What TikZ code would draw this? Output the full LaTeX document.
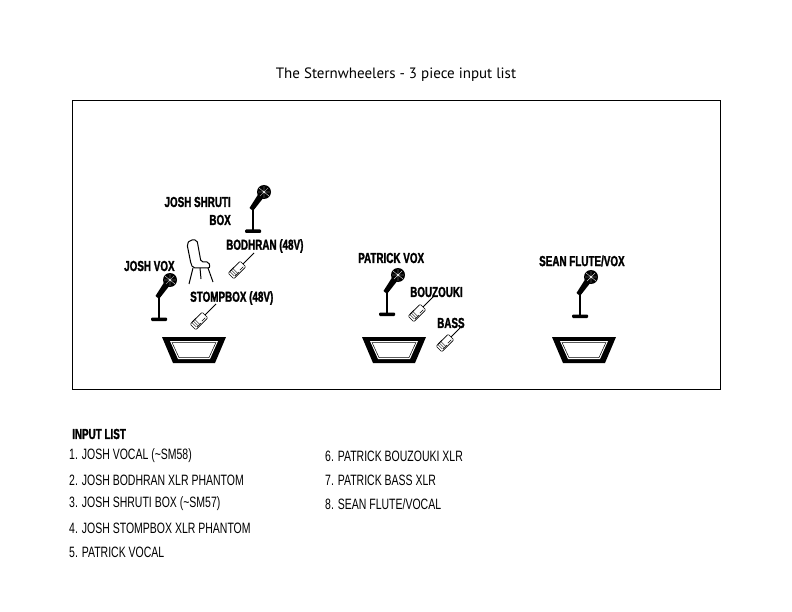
\documentclass[tikz,border=0pt]{standalone}
\usepackage{fontspec}
\setmainfont{PT Sans}
\newfontfamily\condb[FakeStretch=0.68,FakeBold=1.5]{Liberation Sans Bold}
\newfontfamily\condr[FakeStretch=0.7]{Liberation Sans}
\begin{document}
\begin{tikzpicture}[x=1pt,y=-1pt,
  lbl/.style={font=\condb\fontsize{14.5}{15}\selectfont,inner sep=0pt},
  item/.style={font=\condr\fontsize{15}{16}\selectfont,inner sep=0pt,anchor=west},
  mic/.pic={
    \draw[line width=2.2pt] (0,0) -- (0,24);
    \fill[rounded corners=1pt] (-8,22.5) rectangle (8,26);
    \fill (-3.5,1) -- (0,4) -- (11,-10) -- (6,-14) -- cycle;
    \fill (11,-15) circle (7);
    \draw[white,line width=0.35pt] (6,-19)--(16,-11) (7,-11)--(15,-19) (5,-15)--(17,-15) (11,-21)--(11,-9);
  },
  xlr/.pic={
    \draw[line width=0.8pt] (3,-3) -- (14,-14);
    \draw[fill=white,line width=0.6pt,rounded corners=1pt] (5.8,-0.2) -- (0.2,-5.8) -- (-11.8,6.2) -- (-6.2,11.8) -- cycle;
    \draw[line width=0.4pt] (-0.2,3.2) -- ++(3.5,-3.5) (-2.8,5.8)--(-7,1.6) (-4.3,7.3)--(-8.5,3.1) (-5.8,8.8)--(-10,4.6) (-1,5)--(-5,9) (-6,0)--(-10,4);
  },
  wedge/.pic={
    \fill (-32,0) -- (32,0) -- (21,26) -- (-21,26) -- cycle;
    \fill[white] (-24,4) -- (24,4) -- (16,22) -- (-16,22) -- cycle;
    \draw[line width=0.5pt] (-22,5.5) -- (22,5.5) -- (15,20.5) -- (-15,20.5) -- cycle;
  }]
\useasboundingbox (0,0) rectangle (792,612);
\node[font=\fontsize{15}{17}\selectfont] (title) at (396,75) {The Sternwheelers - 3 piece input list};
\draw[line width=0.8pt] (72,100) rectangle (720,389);
\pic at (194,337) {wedge};
\pic at (394,337) {wedge};
\pic at (584,337) {wedge};
\pic at (159,295) {mic};
\pic at (253,207) {mic};
\pic at (387,290) {mic};
\pic at (580,292) {mic};
% chair
\draw[line width=1pt,rounded corners=2pt] (191,264) -- (187,244) -- (190,240) -- (197,240) -- (201,262) -- (209,262) -- (210,268) -- (193,268) -- cycle;
\draw[line width=1pt] (193,268) -- (189,284) (208,268) -- (213,282) (200,268) -- (201,279);
\pic at (240,267) {xlr};
\pic at (202,318) {xlr};
\pic at (420,310) {xlr};
\pic at (448,340) {xlr};
\node[lbl,anchor=east] (shr) at (231,202) {JOSH SHRUTI};
\node[lbl,anchor=east] (box) at (231,220) {BOX};
\node[lbl,anchor=west] (bod) at (226,246) {BODHRAN (48V)};
\node[lbl,anchor=west] (jv) at (124,266) {JOSH VOX};
\node[lbl,anchor=west] (st) at (190,298) {STOMPBOX (48V)};
\node[lbl,anchor=west] (pv) at (358,258) {PATRICK VOX};
\node[lbl,anchor=west] (bz) at (410,292) {BOUZOUKI};
\node[lbl,anchor=west] (bs) at (437,323) {BASS};
\node[lbl,anchor=west] (sf) at (539,261) {SEAN FLUTE/VOX};
\node[lbl,anchor=west] (il) at (72,434) {INPUT LIST};
\node[item] (i1) at (69,456) {1. JOSH VOCAL (\char"7E SM58)};
\node[item] (i2) at (69,480) {2. JOSH BODHRAN XLR PHANTOM};
\node[item] (i3) at (69,504) {3. JOSH SHRUTI BOX (\char"7E SM57)};
\node[item] (i4) at (69,528) {4. JOSH STOMPBOX XLR PHANTOM};
\node[item] (i5) at (69,552) {5. PATRICK VOCAL};
\node[item] (i6) at (325,456) {6. PATRICK BOUZOUKI XLR};
\node[item] (i7) at (325,480) {7. PATRICK BASS XLR};
\node[item] (i8) at (325,504) {8. SEAN FLUTE/VOCAL};
\end{tikzpicture}
\end{document}
